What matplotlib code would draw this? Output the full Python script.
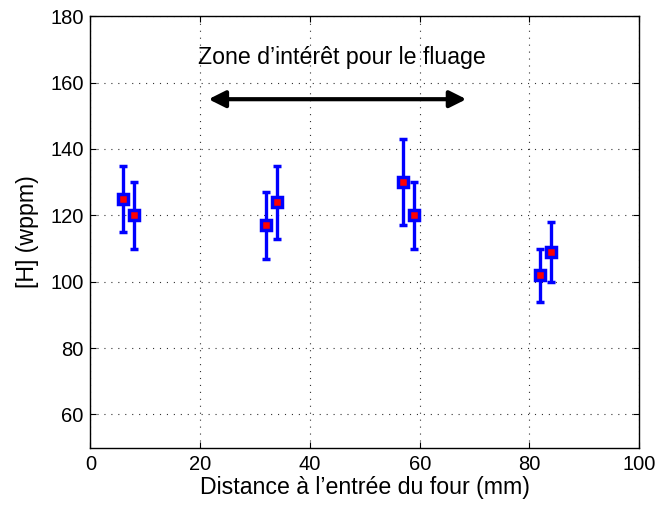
import matplotlib
matplotlib.use("Agg")
import matplotlib.pyplot as plt
import numpy as np

plt.rcParams['font.family'] = ['Liberation Sans', 'DejaVu Sans']
plt.rcParams['lines.scale_dashes'] = False

distance = [6, 8, 32, 34, 57, 59, 82, 84]
h_mean = [125, 120, 117, 124, 130, 120, 102, 109]
h_low = [115, 110, 107, 113, 117, 110, 94, 100]
h_high = [135, 130, 127, 135, 143, 130, 110, 118]
xticks = [0, 20, 40, 60, 80, 100]
yticks = [60, 80, 100, 120, 140, 160, 180]
arrow_range = [21, 69]
arrow_y = 155
annotation = "Zone d’intérêt pour le fluage"

fig = plt.figure(figsize=(6.58, 5.07), dpi=100)
ax = fig.add_axes([0.1375, 0.117, 0.834, 0.851])

yerr = [np.array(h_mean) - np.array(h_low), np.array(h_high) - np.array(h_mean)]
ax.errorbar(distance, h_mean, yerr=yerr, fmt='s', color='blue', ecolor='blue',
            elinewidth=2.4, capsize=3, capthick=2.4,
            markersize=7, markerfacecolor='red', markeredgecolor='blue',
            markeredgewidth=2.5, zorder=3)

ax.annotate('', xy=(arrow_range[1], arrow_y), xytext=(arrow_range[0], arrow_y),
            arrowprops=dict(arrowstyle='<|-|>', color='black', lw=3,
                            mutation_scale=25))
ax.text(45.9, 167.6, annotation, ha='center', va='center', fontsize=16.7)

ax.set_xlim(0, 100)
ax.set_ylim(50, 180)
ax.set_xticks(xticks)
ax.set_yticks(yticks)
ax.tick_params(direction='in', labelsize=14.5, length=4, top=True, right=True,
               pad=5)
ax.grid(True, linestyle=(0, (0.8, 4.2)), color='#333333', linewidth=0.8)
ax.set_axisbelow(True)
for s in ax.spines.values():
    s.set_linewidth(1)
ax.set_xlabel("Distance à l’entrée du four (mm)", fontsize=16.7, labelpad=2)
ax.set_ylabel("[H] (wppm)", fontsize=16.7, labelpad=8)

fig.savefig('out.png', dpi=100)
